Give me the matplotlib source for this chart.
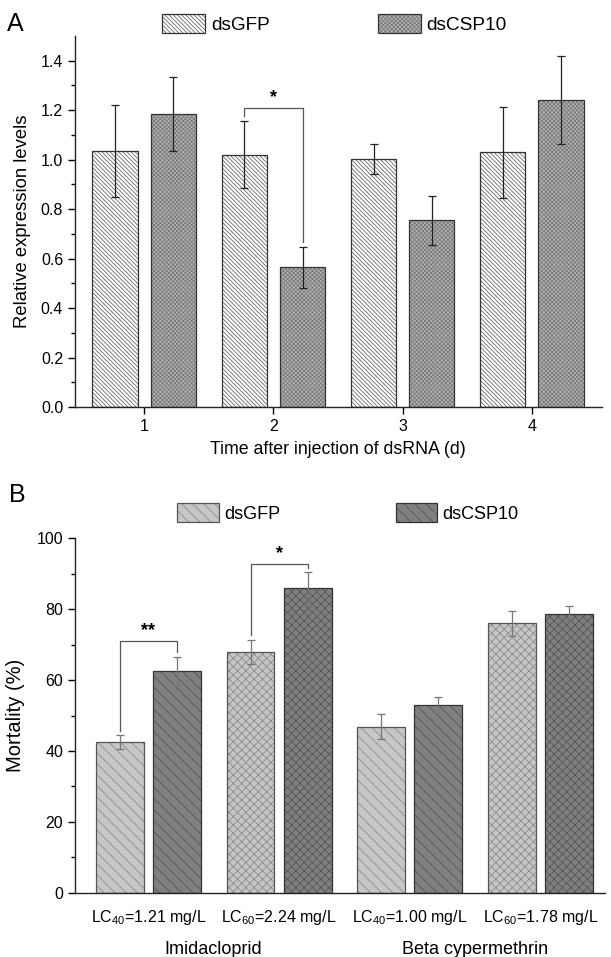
import numpy as np
import matplotlib.pyplot as plt
import matplotlib.transforms as mtransforms
from matplotlib.patches import Patch
from matplotlib.legend_handler import HandlerTuple

plt.rcParams['font.family'] = ['Liberation Sans', 'DejaVu Sans']
plt.rcParams['mathtext.fontset'] = 'custom'
plt.rcParams['mathtext.rm'] = 'Liberation Sans'
plt.rcParams['mathtext.it'] = 'Liberation Sans:italic'
plt.rcParams['hatch.linewidth'] = 0.6

# Panel A: relative expression after dsRNA injection
days = [1, 2, 3, 4]
a_gfp = [1.035, 1.02, 1.003, 1.03]
a_gfp_err = [0.185, 0.135, 0.06, 0.184]
a_csp = [1.185, 0.565, 0.755, 1.242]
a_csp_err = [0.15, 0.083, 0.098, 0.177]
a_sig = {1: ('*', 1.21)}

# Panel B: mortality
doses = ['LC$_{40}$=1.21 mg/L', 'LC$_{60}$=2.24 mg/L',
         'LC$_{40}$=1.00 mg/L', 'LC$_{60}$=1.78 mg/L']
insecticides = ['Imidacloprid', 'Beta cypermethrin']
b_gfp = [42.6, 67.9, 46.9, 76.0]
b_gfp_err = [1.9, 3.5, 3.5, 3.5]
b_csp = [62.4, 85.8, 53.0, 78.7]
b_csp_err = [4.2, 4.5, 2.3, 2.2]
b_sig = {0: ('**', 71.0), 1: ('*', 92.8)}


def hatched_bar(ax, x, h, w, fc, hc, hatch, ec):
    ax.bar(x, h, w, color=fc, edgecolor=hc, hatch=hatch, linewidth=0, zorder=2)
    ax.bar(x, h, w, fill=False, edgecolor=ec, linewidth=0.9, zorder=3)


def bracket(ax, x1, x2, y1, y2, top, label, gap):
    ax.plot([x1, x1, x2, x2], [y1 + gap, top, top, y2 + gap],
            color='#555555', lw=0.9, zorder=4)
    ax.text((x1 + x2) / 2, top + gap * 0.4, label, ha='center', va='bottom',
            fontsize=13, fontweight='bold')


def style_axes(ax):
    for s in ['top', 'right']:
        ax.spines[s].set_visible(False)
    for s in ['left', 'bottom']:
        ax.spines[s].set_linewidth(1.0)
        ax.spines[s].set_color('#222222')
    ax.tick_params(axis='both', labelsize=11.5, width=1.0, length=5)
    ax.tick_params(axis='y', which='minor', length=3, width=1.0)


def leg_handle(fc, hc, hatch, ec):
    return (Patch(facecolor=fc, edgecolor=hc, hatch=hatch, linewidth=0),
            Patch(fill=False, edgecolor=ec, linewidth=0.9))


fig = plt.figure(figsize=(6.11, 9.57), dpi=100)

# ---------------- A ----------------
axA = fig.add_axes([0.1228, 0.5747, 0.862, 0.3877])
x = np.array(days, dtype=float)
off, w = 0.225, 0.35
gfp_a_style = dict(fc='white', hc='#6a6a6a', hatch='\\\\\\\\\\\\\\\\', ec='#333333')
csp_a_style = dict(fc='#b3b3b3', hc='#7a7a7a', hatch='xxxxxxxx', ec='#333333')
for i in range(len(days)):
    hatched_bar(axA, x[i] - off, a_gfp[i], w, **gfp_a_style)
    hatched_bar(axA, x[i] + off, a_csp[i], w, **csp_a_style)
axA.errorbar(x - off, a_gfp, yerr=a_gfp_err, fmt='none', ecolor='#222222',
             elinewidth=0.9, capsize=3, capthick=0.9, zorder=5)
axA.errorbar(x + off, a_csp, yerr=a_csp_err, fmt='none', ecolor='#222222',
             elinewidth=0.9, capsize=3, capthick=0.9, zorder=5)
for i, (lab, top) in a_sig.items():
    bracket(axA, x[i] - off, x[i] + off, a_gfp[i] + a_gfp_err[i],
            a_csp[i] + a_csp_err[i], top, lab, 0.02)

axA.set_xlim(0.465, 4.54)
axA.set_ylim(0, 1.5)
axA.set_xticks(days)
axA.set_yticks(np.arange(0, 1.41, 0.2))
axA.set_yticks(np.arange(0.1, 1.5, 0.2), minor=True)
axA.yaxis.set_major_formatter(plt.FormatStrFormatter('%.1f'))
style_axes(axA)
axA.set_ylabel('Relative expression levels', fontsize=13.3, labelpad=7)
axA.set_xlabel('Time after injection of dsRNA (d)', fontsize=12.8, labelpad=5)

fig.legend([leg_handle(**gfp_a_style), leg_handle(**csp_a_style)],
           ['dsGFP', 'dsCSP10'], loc='center', bbox_to_anchor=(0.5475, 0.975),
           ncol=2, frameon=False, fontsize=13.7, handlelength=2.26,
           handleheight=1.16, columnspacing=5.7, handletextpad=0.3,
           borderpad=0.2, handler_map={tuple: HandlerTuple(ndivide=1, pad=0)})
fig.text(0.012, 0.975, 'A', fontsize=18, va='center')

# ---------------- B ----------------
axB = fig.add_axes([0.1228, 0.0669, 0.867, 0.3709])
xb = np.arange(1, len(doses) + 1, dtype=float)
offb, wb = 0.218, 0.366
for i in range(len(doses)):
    hatch = '\\\\\\' if i % 2 == 0 else 'xxxx'
    hatched_bar(axB, xb[i] - offb, b_gfp[i], wb, '#c6c6c6', '#8c8c8c', hatch, '#555555')
    hatched_bar(axB, xb[i] + offb, b_csp[i], wb, '#808080', '#565656', hatch, '#333333')
axB.errorbar(xb - offb, b_gfp, yerr=b_gfp_err, fmt='none', ecolor='#777777',
             elinewidth=0.9, capsize=3, capthick=0.9, zorder=5)
axB.errorbar(xb + offb, b_csp, yerr=b_csp_err, fmt='none', ecolor='#777777',
             elinewidth=0.9, capsize=3, capthick=0.9, zorder=5)
for i, (lab, top) in b_sig.items():
    bracket(axB, xb[i] - offb, xb[i] + offb, b_gfp[i] + b_gfp_err[i],
            b_csp[i] + b_csp_err[i], top, lab, 1.2)

axB.set_xlim(0.44, 4.49)
axB.set_ylim(0, 100)
axB.set_yticks(np.arange(0, 101, 20))
axB.set_yticks(np.arange(10, 100, 20), minor=True)
axB.set_xticks(xb)
axB.set_xticklabels(doses)
style_axes(axB)
axB.tick_params(axis='x', length=0, pad=11, labelsize=11.5)
axB.set_ylabel('Mortality (%)', fontsize=14.5, labelpad=8)
trans = mtransforms.blended_transform_factory(axB.transData, axB.transAxes)
for j, name in enumerate(insecticides):
    axB.text(xb[2 * j:2 * j + 2].mean(), -0.16, name, transform=trans,
             ha='center', va='center', fontsize=13)

fig.legend([leg_handle('#c6c6c6', '#8c8c8c', '\\\\\\', '#555555'),
            leg_handle('#808080', '#565656', '\\\\\\', '#333333')],
           ['dsGFP', 'dsCSP10'], loc='center', bbox_to_anchor=(0.5696, 0.464),
           ncol=2, frameon=False, fontsize=13, handlelength=2.3,
           handleheight=1.2, columnspacing=6.4, handletextpad=0.3,
           borderpad=0.2, handler_map={tuple: HandlerTuple(ndivide=1, pad=0)})
fig.text(0.015, 0.483, 'B', fontsize=18, va='center')

fig.savefig('out.png', dpi=100)
